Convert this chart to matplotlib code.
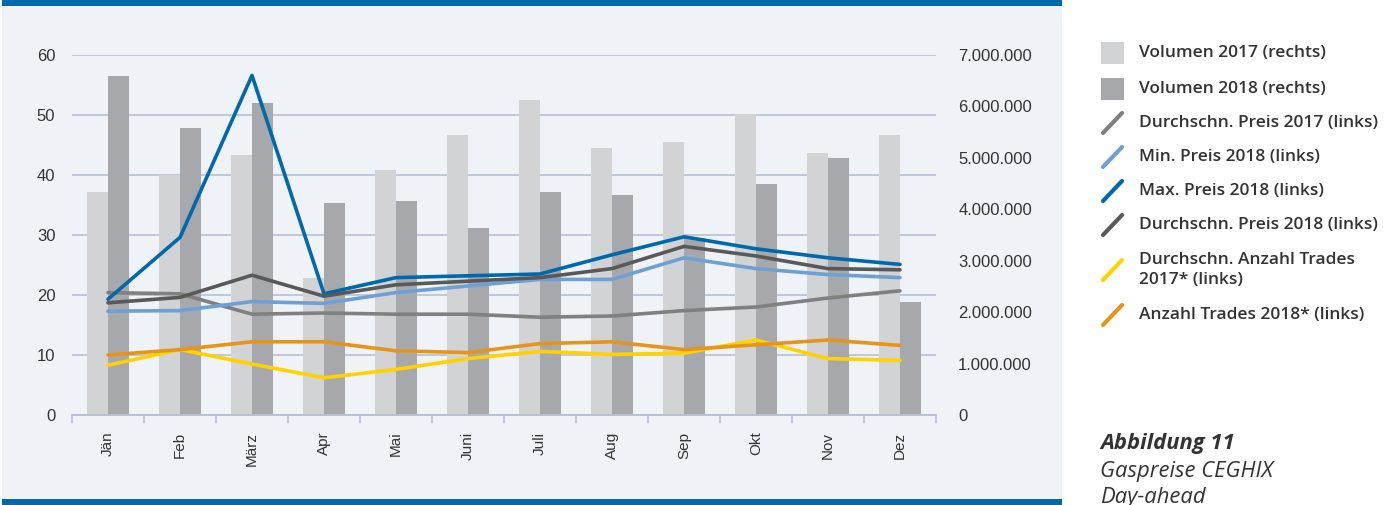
import numpy as np
import matplotlib.pyplot as plt
from matplotlib.patches import Rectangle
from matplotlib.lines import Line2D
from matplotlib.ticker import FuncFormatter

months = ["Jän", "Feb", "März", "Apr", "Mai", "Juni", "Juli", "Aug", "Sep", "Okt", "Nov", "Dez"]

vol_2017 = [4340000, 4670000, 5060000, 2660000, 4760000, 5440000,
            6130000, 5200000, 5310000, 5850000, 5090000, 5440000]
vol_2018 = [6590000, 5590000, 6060000, 4130000, 4160000, 3630000,
            4340000, 4270000, 3450000, 4490000, 4990000, 2200000]

avg_2017 = [20.4, 20.2, 16.8, 17.0, 16.8, 16.8, 16.3, 16.5, 17.4, 18.0, 19.5, 20.7]
min_2018 = [17.3, 17.4, 18.9, 18.6, 20.4, 21.5, 22.6, 22.6, 26.2, 24.4, 23.4, 22.9]
max_2018 = [19.3, 29.6, 56.6, 20.2, 22.9, 23.2, 23.5, 26.7, 29.7, 27.7, 26.2, 25.1]
avg_2018 = [18.7, 19.6, 23.3, 19.8, 21.7, 22.3, 22.9, 24.4, 28.1, 26.5, 24.4, 24.2]
trades_2017 = [8.3, 10.9, 8.5, 6.2, 7.6, 9.4, 10.6, 10.1, 10.3, 12.5, 9.4, 9.1]
trades_2018 = [10.0, 10.9, 12.2, 12.2, 10.7, 10.4, 11.9, 12.2, 10.9, 11.7, 12.5, 11.6]

c_v17 = "#d2d3d5"
c_v18 = "#a7a8ab"
c_avg17 = "#808080"
c_min18 = "#6fa0d4"
c_max18 = "#0068ac"
c_avg18 = "#595959"
c_tr17 = "#ffd200"
c_tr18 = "#e5961a"
grid_c = "#b7c1d6"
panel_c = "#eff3f8"
text_c = "#333333"

plt.rcParams["font.family"] = ["Liberation Sans", "DejaVu Sans"]

fig = plt.figure(figsize=(14, 5.05), dpi=100)
fig.patch.set_facecolor("white")

# panel background and blue bars (behind the axes)
fig.patches.append(Rectangle((2 / 1400, 7 / 505), 1060 / 1400, 491 / 505,
                             transform=fig.transFigure, facecolor=panel_c, edgecolor="none", zorder=-5))
fig.patches.append(Rectangle((2 / 1400, 1 - 6 / 505), 1060 / 1400, 6 / 505,
                             transform=fig.transFigure, facecolor=c_max18, edgecolor="none", zorder=-5))
fig.patches.append(Rectangle((2 / 1400, 0), 1060 / 1400, 6 / 505,
                             transform=fig.transFigure, facecolor=c_max18, edgecolor="none", zorder=-5))

ax = fig.add_axes([72 / 1400, 1 - 415 / 505, 864 / 1400, 360 / 505])
ax2 = ax.twinx()
ax.set_zorder(ax2.get_zorder() + 1)
ax.patch.set_visible(False)
ax2.patch.set_visible(False)

x = np.arange(len(months))
w = 0.29
ax2.bar(x - w / 2, vol_2017, w, color=c_v17, zorder=2)
ax2.bar(x + w / 2, vol_2018, w, color=c_v18, zorder=2)
ax2.set_ylim(0, 7000000)
ax2.set_yticks(np.arange(0, 7000001, 1000000))
ax2.yaxis.set_major_formatter(FuncFormatter(lambda v, p: f"{int(v):,}".replace(",", ".")))

lw = 2.6
ax.plot(x, avg_2017, color=c_avg17, lw=lw, solid_capstyle="round", zorder=3)
ax.plot(x, min_2018, color=c_min18, lw=lw, solid_capstyle="round", zorder=3)
ax.plot(x, max_2018, color=c_max18, lw=lw, solid_capstyle="round", zorder=3)
ax.plot(x, avg_2018, color=c_avg18, lw=lw, solid_capstyle="round", zorder=3)
ax.plot(x, trades_2017, color=c_tr17, lw=lw, solid_capstyle="round", zorder=3)
ax.plot(x, trades_2018, color=c_tr18, lw=lw, solid_capstyle="round", zorder=3)

ax.set_ylim(0, 60)
ax.set_xlim(-0.5, 11.5)
ax.set_yticks(np.arange(0, 61, 10))
for yv in range(10, 61, 10):
    ax2.axhline(yv / 60 * 7000000, color=grid_c, lw=1.2, zorder=1)

ax.set_xticks(x)
ax.set_xticklabels(months, rotation=90, fontsize=11, color=text_c)
ax.set_xticks(np.arange(-0.5, 12, 1), minor=True)
ax.tick_params(axis="x", which="major", length=0, pad=12)
ax.tick_params(axis="x", which="minor", length=6, color=grid_c, width=1.2)
ax.tick_params(axis="y", length=0, labelsize=12, labelcolor=text_c, pad=12)
ax2.tick_params(axis="y", length=0, labelsize=12, labelcolor=text_c, pad=16)
ax2.tick_params(axis="x", length=0)

for a in (ax, ax2):
    for s in ("top", "left", "right"):
        a.spines[s].set_visible(False)
    a.spines["bottom"].set_color(grid_c)
    a.spines["bottom"].set_linewidth(1.2)

# legend
legend_items = [
    ("patch", c_v17, "Volumen 2017 (rechts)", 53),
    ("patch", c_v18, "Volumen 2018 (rechts)", 89),
    ("line", c_avg17, "Durchschn. Preis 2017 (links)", 123),
    ("line", c_min18, "Min. Preis 2018 (links)", 157),
    ("line", c_max18, "Max. Preis 2018 (links)", 191),
    ("line", c_avg18, "Durchschn. Preis 2018 (links)", 225),
    ("line", c_tr17, "Durchschn. Anzahl Trades\n2017* (links)", 270),
    ("line", c_tr18, "Anzahl Trades 2018* (links)", 315),
]
for kind, col, label, py in legend_items:
    yc = 1 - py / 505
    if kind == "patch":
        fig.patches.append(Rectangle((1101 / 1400, yc - 11 / 505), 23 / 1400, 22 / 505,
                                     transform=fig.transFigure, facecolor=col, edgecolor="none"))
    else:
        fig.lines.append(Line2D([1103 / 1400, 1122 / 1400], [yc - 10 / 505, yc + 10 / 505],
                                transform=fig.transFigure, color=col, lw=3, solid_capstyle="round"))
    fig.text(1139 / 1400, yc, label, fontsize=12.5, fontweight="semibold", color=text_c,
             va="center", ha="left", linespacing=1.25, family=["Open Sans", "DejaVu Sans"])

cap = dict(family=["Open Sans", "DejaVu Sans"], fontsize=15.8, fontstyle="italic",
           color=text_c, va="center")
fig.text(1100 / 1400, 1 - 443 / 505, "Abbildung 11", fontweight="bold", **cap)
fig.text(1100 / 1400, 1 - 471 / 505, "Gaspreise CEGHIX", **cap)
fig.text(1100 / 1400, 1 - 498 / 505, "Day-ahead", **cap)

fig.savefig("out.png", dpi=100, facecolor="white")
